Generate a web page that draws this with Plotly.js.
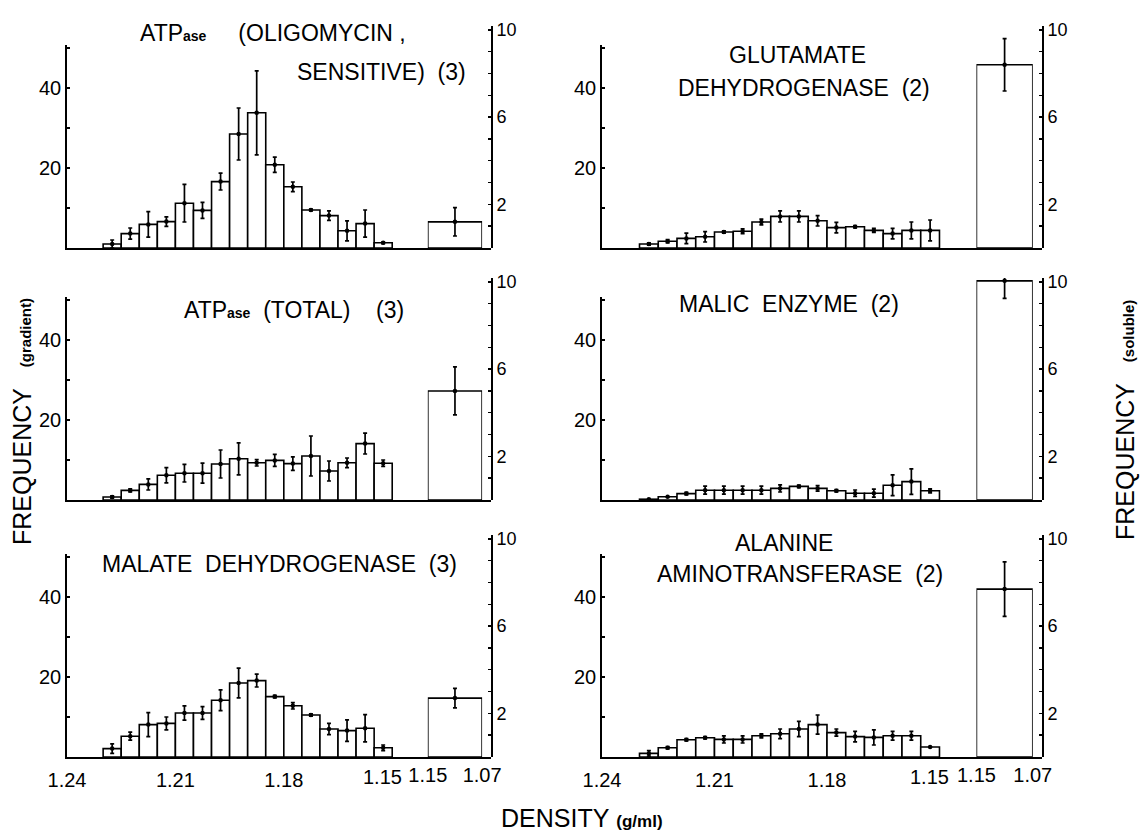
<!DOCTYPE html>
<html><head><meta charset="utf-8">
<script src="https://cdn.plot.ly/plotly-3.0.1.min.js"></script>
<style>html,body{margin:0;padding:0;background:#fff}</style>
</head><body><div id="chart" style="width:1144px;height:832px"></div>
<script>
// ---- data ----
const binCenters = [1.2275, 1.2225, 1.2175, 1.2125, 1.2075, 1.2025, 1.1975, 1.1925,
                    1.1875, 1.1825, 1.1775, 1.1725, 1.1675, 1.1625, 1.1575, 1.1525];
const binWidth = 0.005;
const solubleCenter = 1.11;
const solubleWidth = 0.08;

const oligoVals = [1.0, 3.6, 5.9, 6.6, 11.2, 9.4, 16.6, 28.5, 33.8, 20.8, 15.3, 9.5, 8.1, 4.3, 6.1, 1.3];
const oligoErr  = [1.0, 1.4, 3.2, 1.2, 4.7, 2.0, 2.1, 6.5, 10.5, 1.9, 1.2, 0.2, 1.2, 2.5, 3.4, 0.2];
const oligoSol = [1.2], oligoSolErr = [0.65];

const glutVals = [1.0, 1.7, 2.4, 2.8, 4.0, 4.2, 6.5, 7.9, 7.9, 6.8, 5.1, 5.3, 4.4, 3.6, 4.4, 4.4];
const glutErr  = [0.3, 0.4, 1.3, 1.3, 0.3, 0.6, 0.7, 1.4, 1.4, 1.3, 1.3, 0.3, 0.5, 1.3, 2.1, 2.6];
const glutSol = [8.4], glutSolErr = [1.2];

const totalVals = [0.75, 2.4, 3.9, 6.2, 6.7, 6.7, 9.0, 10.3, 9.3, 9.9, 9.1, 11.0, 7.25, 9.3, 14.1, 9.2];
const totalErr  = [0.3, 0.4, 1.4, 1.9, 2.2, 2.5, 3.5, 4.0, 0.8, 1.5, 1.7, 5.0, 2.5, 1.2, 2.6, 0.8];
const totalSol = [5.0], totalSolErr = [1.1];

const malicVals = [0.2, 0.8, 1.6, 2.45, 2.45, 2.45, 2.45, 2.9, 3.4, 2.9, 2.3, 1.7, 1.7, 3.7, 4.6, 2.3];
const malicErr  = [0, 0, 0.3, 1.0, 1.0, 1.0, 1.0, 0.9, 0.3, 0.7, 0.3, 0.8, 1.0, 2.6, 3.2, 0.5];
const malicSol = [10.05], malicSolErr = [0.8];

const malateVals = [2.1, 5.2, 8.1, 8.4, 11.0, 11.0, 14.2, 18.5, 19.1, 15.1, 12.8, 10.5, 7.0, 6.6, 7.2, 2.3];
const malateErr  = [1.2, 1.0, 3.0, 1.6, 1.8, 1.6, 2.6, 3.7, 1.6, 0.3, 0.8, 0.3, 1.4, 2.7, 3.4, 0.7];
const malateSol = [2.7], malateSolErr = [0.45];

const alanineVals = [0.9, 2.3, 4.3, 4.8, 4.4, 4.4, 5.3, 5.8, 7.0, 8.1, 6.1, 5.1, 4.9, 5.3, 5.3, 2.5];
const alanineErr  = [0.7, 0.3, 0.3, 0.3, 0.9, 0.9, 0.5, 1.2, 1.9, 2.4, 0.9, 1.3, 1.9, 1.1, 1.1, 0];
const alanineSol = [7.7], alanineSolErr = [1.25];

const NB = '\u00a0';
const gradTickVals = [1.24, 1.21, 1.18, 1.15];
const gradTickText = ['1.24', '1.21', '1.18', ''];   // the 1.15 label is set a little left, below
const gradEndLabel = '1.15';
const solTickVals = [1.15, 1.07];
const solTickText = ['1.15', '1.07'];
const leftTickVals = [10, 20, 30, 40, 50];
const leftTickText = ['', '20', '', '40', ''];
const rightTickVals = [1, 2, 3, 4, 5, 6, 7, 8, 9, 10];
const rightTickText = ['', '2', '', '', '', '6', '', '', '', '10'];

// ---- layout geometry ----
const W = 1144, H = 832;
const COLS = [{L: 67, R: 491}, {L: 602, R: 1042}];
const ROW_BOTTOMS = [248, 500, 757];
const LEFT_AXIS_PX = 203, RIGHT_AXIS_PX = 222;
const LEFT_MAX = 50.75, RIGHT_MAX = 10.18;
const GRAD_END_FRAC = 0.767;
const SOL_FRAC = [0.851, 0.979];
const FONT = 'Liberation Sans, Arial, Helvetica, sans-serif';
const XTICK_SIZE = 20;

const panels = [
  {col: 0, row: 0, v: oligoVals, e: oligoErr, s: oligoSol, se: oligoSolErr},
  {col: 1, row: 0, v: glutVals, e: glutErr, s: glutSol, se: glutSolErr},
  {col: 0, row: 1, v: totalVals, e: totalErr, s: totalSol, se: totalSolErr},
  {col: 1, row: 1, v: malicVals, e: malicErr, s: malicSol, se: malicSolErr},
  {col: 0, row: 2, v: malateVals, e: malateErr, s: malateSol, se: malateSolErr},
  {col: 1, row: 2, v: alanineVals, e: alanineErr, s: alanineSol, se: alanineSolErr}
];

const traces = [];
const layout = {
  width: W, height: H, margin: {l: 0, r: 0, t: 0, b: 0},
  paper_bgcolor: '#fff', plot_bgcolor: 'rgba(0,0,0,0)',
  showlegend: false, font: {family: FONT, color: '#000', size: 18},
  annotations: []
};

function ax(i) { return i === 1 ? '' : String(i); }
const LINE_W = 1.8;

panels.forEach((p, k) => {
  const gi = 2 * k + 1, si = 2 * k + 2;
  const c = COLS[p.col], B = ROW_BOTTOMS[p.row];
  const w = c.R - c.L;
  const bottomRow = p.row === 2;
  const yb = 1 - B / H;
  layout['xaxis' + ax(gi)] = {
    domain: [c.L / W, c.R / W], range: [1.24, 1.24 - 0.09 / GRAD_END_FRAC],
    anchor: 'y' + ax(gi), showline: true, linewidth: LINE_W, linecolor: '#000',
    showgrid: false, zeroline: false, ticks: '', tickvals: gradTickVals, ticktext: gradTickText,
    showticklabels: bottomRow, tickfont: {size: XTICK_SIZE, family: FONT},
    ticklabelstandoff: 4
  };
  layout['xaxis' + ax(si)] = {
    domain: [(c.L + SOL_FRAC[0] * w) / W, (c.L + SOL_FRAC[1] * w) / W], range: [1.15, 1.07],
    anchor: 'y' + ax(si), showline: false, showgrid: false, zeroline: false, ticks: '',
    tickvals: solTickVals, ticktext: solTickText, showticklabels: bottomRow,
    tickfont: {size: XTICK_SIZE, family: FONT}, ticklabelstandoff: 4
  };
  layout['yaxis' + ax(gi)] = {
    domain: [yb, yb + LEFT_AXIS_PX / H], range: [0, LEFT_MAX], anchor: 'x' + ax(gi),
    showline: true, linewidth: LINE_W, linecolor: '#000', showgrid: false, zeroline: false,
    ticks: 'inside', ticklen: 3, tickwidth: 1.4, tickcolor: '#000',
    tickvals: leftTickVals, ticktext: leftTickText, tickfont: {size: 20, family: FONT},
    ticklabelstandoff: 0
  };
  layout['yaxis' + ax(si)] = {
    domain: [yb, yb + RIGHT_AXIS_PX / H], range: [0, RIGHT_MAX], anchor: 'free',
    position: c.R / W, side: 'right',
    showline: true, linewidth: LINE_W, linecolor: '#000', showgrid: false, zeroline: false,
    ticks: 'inside', ticklen: 3, tickwidth: 1.4, tickcolor: '#000',
    tickvals: rightTickVals, ticktext: rightTickText, tickfont: {size: 18, family: FONT},
    ticklabelstandoff: 0
  };
  if (bottomRow) {
    layout.annotations.push({
      text: gradEndLabel, x: gradTickVals[3], xref: 'x' + ax(gi), xshift: -10,
      y: 1 - (B + 20) / H, yref: 'paper', xanchor: 'center', yanchor: 'middle',
      showarrow: false, font: {size: XTICK_SIZE, family: FONT, color: '#000'}
    });
  }
  const barStyle = {color: '#fff', line: {color: '#000', width: 1.6}};
  traces.push({
    type: 'bar', x: binCenters, y: p.v, width: binWidth, marker: barStyle,
    xaxis: 'x' + ax(gi), yaxis: 'y' + ax(gi), cliponaxis: false, hoverinfo: 'skip'
  });
  traces.push({
    type: 'scatter', mode: 'markers', x: binCenters, y: p.v,
    marker: {color: '#000', size: 4.5},
    error_y: {type: 'data', array: p.e, visible: true, color: '#000', thickness: 1.7, width: 2},
    xaxis: 'x' + ax(gi), yaxis: 'y' + ax(gi), cliponaxis: false, hoverinfo: 'skip'
  });
  traces.push({
    type: 'bar', x: [solubleCenter], y: p.s, width: solubleWidth, marker: barStyle,
    xaxis: 'x' + ax(si), yaxis: 'y' + ax(si), cliponaxis: false, hoverinfo: 'skip'
  });
  traces.push({
    type: 'scatter', mode: 'markers', x: [solubleCenter], y: p.s,
    marker: {color: '#000', size: 4.5},
    error_y: {type: 'data', array: p.se, visible: true, color: '#000', thickness: 1.7, width: 2},
    xaxis: 'x' + ax(si), yaxis: 'y' + ax(si), cliponaxis: false, hoverinfo: 'skip'
  });
});

const sub = s => '<span style="font-size:14px;font-weight:bold">' + s + '</span>';
function ann(text, px, py, size, xanchor, extra) {
  layout.annotations.push(Object.assign({
    text: text, x: px / W, y: 1 - py / H, xref: 'paper', yref: 'paper',
    xanchor: xanchor || 'center', yanchor: 'middle', showarrow: false,
    font: {size: size, family: FONT, color: '#000'}
  }, extra || {}));
}
const TS = 23;
ann('ATP' + sub('ase') + NB.repeat(5) + '(OLIGOMYCIN ,', 138, 33, TS, 'left');
ann('SENSITIVE)' + NB.repeat(2) + '(3)', 295, 72, TS, 'left');
ann('GLUTAMATE', 797, 55, TS);
ann('DEHYDROGENASE' + NB.repeat(2) + '(2)', 804, 88, TS);
ann('ATP' + sub('ase') + NB.repeat(2) + '(TOTAL)' + NB.repeat(4) + '(3)', 182, 310, TS, 'left');
ann('MALIC' + NB.repeat(2) + 'ENZYME' + NB.repeat(2) + '(2)', 677, 304, TS, 'left');
ann('MALATE' + NB.repeat(2) + 'DEHYDROGENASE' + NB.repeat(2) + '(3)', 100, 564, TS, 'left');
ann('ALANINE', 784, 543, TS);
ann('AMINOTRANSFERASE' + NB.repeat(2) + '(2)', 655, 574, TS, 'left');

const small = (s, fs) => '<span style="font-size:' + fs + 'px;font-weight:bold">' + s + '</span>';
ann('FREQUENCY' + NB.repeat(3) + small('(gradient)', 15), 22, 422, 25, 'center', {textangle: -90});
ann('FREQUENCY' + NB.repeat(3) + small('(soluble)', 15), 1125, 420, 25, 'center', {textangle: -90});
ann('DENSITY' + NB + small('(g/ml)', 17), 582, 818, 25, 'center');

Plotly.newPlot('chart', traces, layout, {staticPlot: true, displayModeBar: false});
</script>
</body></html>
